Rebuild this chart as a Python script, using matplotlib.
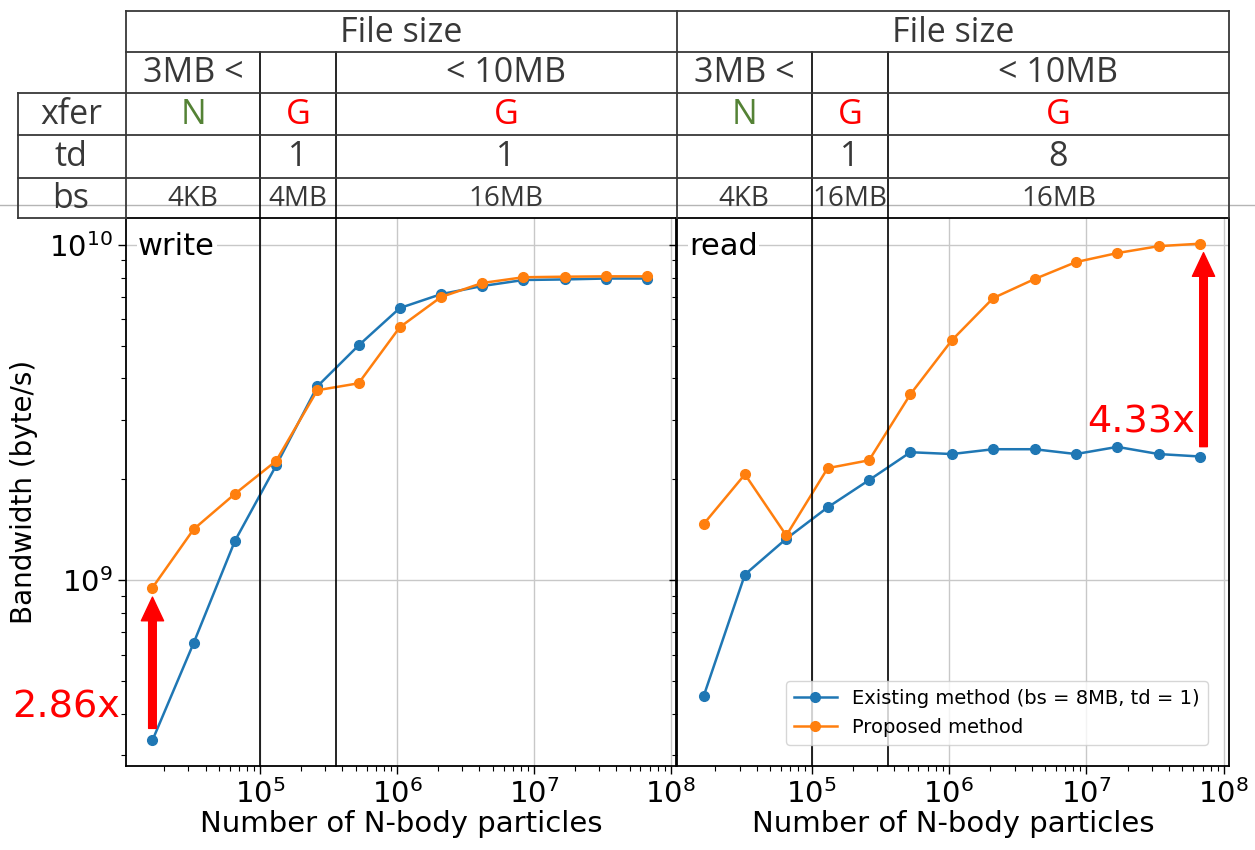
import numpy as np
import matplotlib.pyplot as plt
from matplotlib.lines import Line2D
from matplotlib.transforms import blended_transform_factory

# number of particles: 2^14 .. 2^26
particles = [2 ** k for k in range(14, 27)]

write_existing = [3.33e8, 6.5e8, 1.31e9, 2.2e9, 3.79e9, 5.02e9, 6.49e9,
                  7.14e9, 7.55e9, 7.87e9, 7.9e9, 7.95e9, 7.95e9]
write_proposed = [9.5e8, 1.42e9, 1.81e9, 2.27e9, 3.69e9, 3.87e9, 5.69e9,
                  7.0e9, 7.71e9, 8.02e9, 8.05e9, 8.07e9, 8.07e9]
read_existing = [4.5e8, 1.04e9, 1.33e9, 1.65e9, 1.99e9, 2.41e9, 2.38e9,
                 2.46e9, 2.46e9, 2.38e9, 2.5e9, 2.38e9, 2.34e9]
read_proposed = [1.47e9, 2.07e9, 1.36e9, 2.16e9, 2.28e9, 3.59e9, 5.2e9,
                 6.95e9, 7.92e9, 8.9e9, 9.47e9, 9.93e9, 1.01e10]

# table above the plots
size_bounds = [1.0e5, 3.6e5]
size_labels = ['3MB <', '', '< 10MB']
row_names = ['xfer', 'td', 'bs']
write_xfer = ['N', 'G', 'G']
write_td = ['', '1', '1']
write_bs = ['4KB', '4MB', '16MB']
read_xfer = ['N', 'G', 'G']
read_td = ['', '1', '8']
read_bs = ['4KB', '16MB', '16MB']
xfer_colors = {'N': '#548235', 'G': '#ff0000'}

speedups = ['2.86x', '4.33x']

W, H = 1255, 850
fx = lambda px: px / W
fy = lambda py: 1 - py / H

BLUE, ORANGE = '#1f77b4', '#ff7f0e'
TFONT = 'Open Sans'
TCOL = '#383838'
TSIZE, BSIZE = 24.5, 20

fig = plt.figure(figsize=(W / 100, H / 100), dpi=100)
ax_top, ax_bot = 218, 766
ax1 = fig.add_axes([fx(126), fy(ax_bot), fx(676) - fx(126), fy(ax_top) - fy(ax_bot)])
ax2 = fig.add_axes([fx(677), fy(ax_bot), fx(1229) - fx(677), fy(ax_top) - fy(ax_bot)])

xlim = (1.05e4, 1.09e8)
ylim = (2.79e8, 1.205e10)

for ax, ex, pr, name in [(ax1, write_existing, write_proposed, 'write'),
                         (ax2, read_existing, read_proposed, 'read')]:
    ax.plot(particles, ex, '-o', color=BLUE, lw=1.8, ms=7,
            label='Existing method (bs = 8MB, td = 1)')
    ax.plot(particles, pr, '-o', color=ORANGE, lw=1.8, ms=7, label='Proposed method')
    ax.set_xscale('log')
    ax.set_yscale('log')
    ax.set_xlim(*xlim)
    ax.set_ylim(*ylim)
    ax.grid(True, which='major', color='#c8c8c8', lw=1.0)
    ax.set_axisbelow(True)
    ax.tick_params(which='major', direction='out', length=6, width=1, labelsize=21)
    ax.tick_params(which='minor', direction='out', length=3.5, width=0.8)
    for s in ax.spines.values():
        s.set_linewidth(1.3)
    ax.set_xlabel('Number of N-body particles', fontsize=21, labelpad=1)
    ax.text(0.022, 0.975, name, transform=ax.transAxes, fontsize=22,
            va='top', ha='left',
            bbox=dict(facecolor='white', edgecolor='none', pad=1))

ax1.set_ylabel('Bandwidth (byte/s)', fontsize=20, labelpad=8)
ax2.tick_params(axis='y', labelleft=False)
ax2.legend(loc='lower right', fontsize=14, borderaxespad=1.1, handlelength=2.2)

# table drawing
ax_h = fy(ax_top) - fy(ax_bot)
row_edges = [11, 52, 93, 135, 178, 218]
row_mid = [(a + b) / 2 for a, b in zip(row_edges[:-1], row_edges[1:])]

def hline(x0, x1, y, **kw):
    fig.add_artist(Line2D([fx(x0), fx(x1)], [fy(y), fy(y)], color=TCOL, lw=1.3, **kw))

def vline(x, y0, y1):
    fig.add_artist(Line2D([fx(x), fx(x)], [fy(y0), fy(y1)], color=TCOL, lw=1.3))

# screenshot seam
fig.add_artist(Line2D([0, 1], [fy(205), fy(205)], color='#b5b5b5', lw=1.0, zorder=0))

hline(126, 1229, 11)
hline(126, 1229, 52)
for y in [93, 135, 178]:
    hline(18, 1229, y)
hline(18, 126, 218)
vline(18, 93, 218)
for x in [126, 676.5, 1229]:
    vline(x, 11, 218)

for i, name in enumerate(row_names):
    fig.text(fx(71), fy(row_mid[i + 2] + 1), name, ha='center', va='center',
             fontsize=TSIZE, family=TFONT, color=TCOL)

ext = 1 + (fy(row_edges[1]) - fy(ax_top)) / ax_h
for ax, xfer, td, bs in [(ax1, write_xfer, write_td, write_bs),
                         (ax2, read_xfer, read_td, read_bs)]:
    for b in size_bounds:
        ax.axvline(b, ymin=0, ymax=ext, color='black', lw=1.2, clip_on=False)
    lo, hi = ax.get_xlim()
    edges = [lo] + size_bounds + [hi]
    centers = [np.sqrt(a * b) for a, b in zip(edges[:-1], edges[1:])]
    tr = blended_transform_factory(ax.transData, fig.transFigure)
    kw = dict(transform=tr, ha='center', va='center', family=TFONT)
    ax.text(np.sqrt(lo * hi), fy(row_mid[0] + 1), 'File size', fontsize=TSIZE, color=TCOL, **kw)
    for c, s, x, t, bsz in zip(centers, size_labels, xfer, td, bs):
        ax.text(c, fy(row_mid[1] + 1), s, fontsize=TSIZE, color=TCOL, **kw)
        ax.text(c, fy(row_mid[2] + 1), x, fontsize=TSIZE, color=xfer_colors[x], **kw)
        ax.text(c, fy(row_mid[3] + 1), t, fontsize=TSIZE, color=TCOL, **kw)
        ax.text(c, fy(row_mid[4] + 1), bsz, fontsize=BSIZE, color=TCOL, **kw)

# speedup arrows
arrow_kw = dict(arrowstyle='simple,head_length=1.7,head_width=1.6,tail_width=0.55',
                color='#ff0000', mutation_scale=10, shrinkA=0, shrinkB=0)
ax1.annotate('', xy=(particles[0], write_proposed[0] * 0.937),
             xytext=(particles[0], write_existing[0] * 1.085), arrowprops=arrow_kw)
ax1.annotate(speedups[0], xy=(particles[0], write_existing[0] * 1.25),
             xytext=(-23, 0), textcoords='offset points', ha='right', va='center',
             fontsize=27.5, color='#ff0000', annotation_clip=False)

ax2.annotate('', xy=(particles[-1] * 1.06, read_proposed[-1] * 0.94),
             xytext=(particles[-1] * 1.06, read_existing[-1] * 1.07), arrowprops=arrow_kw)
ax2.annotate(speedups[1], xy=(particles[-1] * 1.06, read_existing[-1] * 1.26),
             xytext=(-6, 0), textcoords='offset points', ha='right', va='center',
             fontsize=27.5, color='#ff0000')

fig.savefig('out.png', dpi=100)
